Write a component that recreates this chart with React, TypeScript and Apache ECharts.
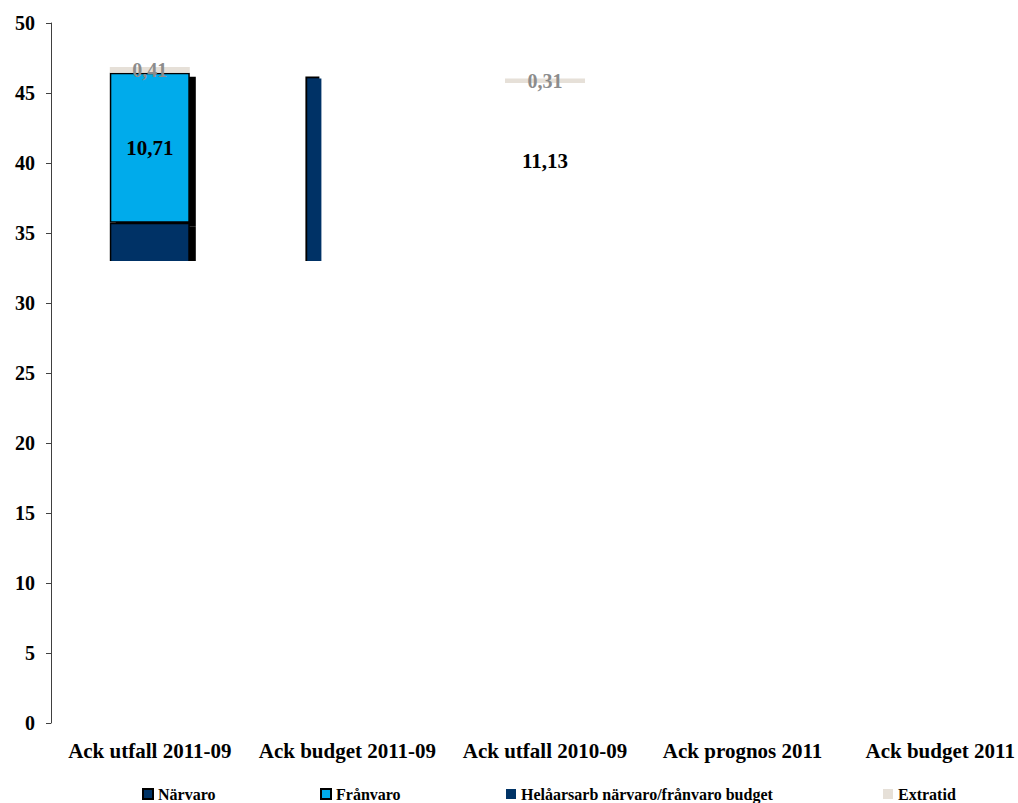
import React, { useEffect, useRef } from "react";
import * as echarts from "echarts";

const categories = [
  "Ack utfall 2011-09",
  "Ack budget 2011-09",
  "Ack utfall 2010-09",
  "Ack prognos 2011",
  "Ack budget 2011",
];
const narvaro = [35.74, null, 34.59, null, null];
const franvaro = [10.71, null, 11.13, null, null];
const extratid = [0.41, null, 0.31, null, null];
const budget = [null, 46.03, null, null, null];
// categories whose närvaro/frånvaro bars have no fill in the original
const hiddenFill = [false, false, true, false, false];
const yTicks = { min: 0, max: 50, interval: 5 };
const visibleFloor = 33;

const seriesNames = [
  "Närvaro",
  "Frånvaro",
  "Helåarsarb närvaro/frånvaro budget",
  "Extratid",
];
const legendLefts = [137, 315, 501, 878];

const FONT = "'Liberation Serif', 'Times New Roman', serif";
const fmt = (v: number) => String(v).replace(".", ",");

const GRID_LEFT = 51;
const GRID_TOP = 23;
const GRID_HEIGHT = 700;
const GRID_WIDTH = 988;
const CHART_WIDTH = 1042;

export default function App() {
  const ref = useRef<HTMLDivElement>(null);
  useEffect(() => {
    if (!ref.current) return;
    const chart = echarts.init(ref.current, undefined, { renderer: "svg" });

    const item = (v: number | null, i: number, color: string) => {
      if (v == null) return "-";
      if (hiddenFill[i])
        return {
          value: v,
          itemStyle: {
            color: "transparent",
            borderWidth: 0,
            shadowColor: "transparent",
            shadowOffsetX: 0,
            shadowOffsetY: 0,
          },
        };
      return { value: v, itemStyle: { color } };
    };

    const noShadow = {
      shadowColor: "transparent",
      shadowOffsetX: 0,
      shadowOffsetY: 0,
      shadowBlur: 0,
    };

    chart.setOption({
      animation: false,
      grid: {
        left: GRID_LEFT,
        top: GRID_TOP,
        width: GRID_WIDTH,
        height: GRID_HEIGHT,
        containLabel: false,
      },
      legend: seriesNames.map((name, i) => ({
        data: [name],
        left: legendLefts[i],
        top: 781,
        icon: "rect",
        itemWidth: 10,
        itemHeight: 10,
        selectedMode: false,
        itemStyle: noShadow,
        textStyle: {
          fontFamily: FONT,
          fontWeight: "bold",
          fontSize: 16,
          color: "#000",
        },
      })),
      xAxis: {
        type: "category",
        data: categories,
        axisLine: { show: false },
        axisTick: { show: false },
        axisLabel: {
          interval: 0,
          margin: 17,
          fontFamily: FONT,
          fontWeight: "bold",
          fontSize: 21,
          color: "#000",
        },
      },
      yAxis: {
        type: "value",
        min: yTicks.min,
        max: yTicks.max,
        interval: yTicks.interval,
        splitLine: { show: false },
        axisLine: { show: true, lineStyle: { color: "#404040", width: 1 } },
        axisTick: { show: true, length: 5, lineStyle: { color: "#404040" } },
        axisLabel: {
          margin: 16,
          fontFamily: FONT,
          fontWeight: "bold",
          fontSize: 20,
          color: "#000",
        },
      },
      series: [
        {
          name: seriesNames[2],
          type: "bar",
          barWidth: 14,
          barGap: "-100%",
          data: budget.map((v) => (v == null ? "-" : v)),
          itemStyle: {
            color: "#003366",
            shadowColor: "#000",
            shadowBlur: 0,
            shadowOffsetX: -2,
            shadowOffsetY: -2,
          },
        },
        {
          name: seriesNames[0],
          type: "bar",
          stack: "total",
          barWidth: 80,
          barGap: "-100%",
          z: 3,
          data: narvaro.map((v, i) => item(v, i, "#003366")),
          itemStyle: {
            color: "#003366",
            borderColor: "#000",
            borderWidth: 1.5,
            shadowColor: "#000",
            shadowBlur: 0,
            shadowOffsetX: 6,
            shadowOffsetY: 4,
          },
        },
        {
          name: seriesNames[1],
          type: "bar",
          stack: "total",
          barWidth: 80,
          barGap: "-100%",
          z: 2,
          data: franvaro.map((v, i) => item(v, i, "#00ABEB")),
          itemStyle: {
            color: "#00ABEB",
            borderColor: "#000",
            borderWidth: 1.5,
            shadowColor: "#000",
            shadowBlur: 0,
            shadowOffsetX: 6,
            shadowOffsetY: 4,
          },
          label: {
            show: true,
            position: "inside",
            formatter: (p: any) => fmt(p.value),
            fontFamily: FONT,
            fontWeight: "bold",
            fontSize: 21,
            color: "#000",
          },
        },
        {
          name: seriesNames[3],
          type: "bar",
          stack: "total",
          barWidth: 80,
          barGap: "-100%",
          z: 4,
          data: extratid.map((v) => (v == null ? "-" : v)),
          itemStyle: { color: "#E6E0D8" },
          label: {
            show: true,
            position: "inside",
            formatter: (p: any) => fmt(p.value),
            fontFamily: FONT,
            fontWeight: "bold",
            fontSize: 20,
            color: "#8C8C8C",
          },
        },
      ],
    });

    // Original image shows nothing of the bars below the visible floor
    const yFloor = chart.convertToPixel({ yAxisIndex: 0 }, visibleFloor) as number;
    const yZero = chart.convertToPixel({ yAxisIndex: 0 }, yTicks.min) as number;
    chart.setOption({
      graphic: [
        {
          type: "rect",
          silent: true,
          z: 50,
          shape: {
            x: GRID_LEFT + 1,
            y: yFloor,
            width: CHART_WIDTH - GRID_LEFT,
            height: yZero - yFloor + 8,
          },
          style: { fill: "#fff" },
        },
      ],
    });

    return () => chart.dispose();
  }, []);
  return (
    <div
      style={{
        position: "absolute",
        left: 0,
        top: 0,
        width: 1018,
        height: 803,
        overflow: "hidden",
      }}
    >
      <div ref={ref} style={{ width: CHART_WIDTH, height: 803 }} />
    </div>
  );
}
